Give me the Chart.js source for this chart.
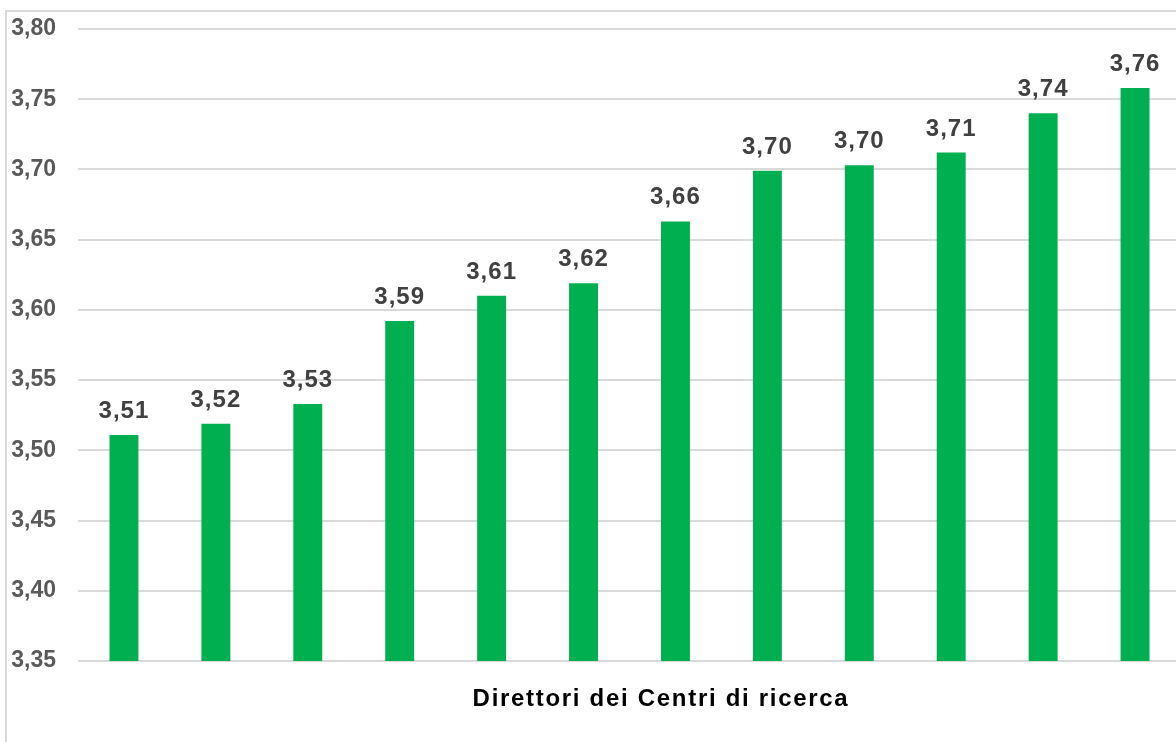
<!DOCTYPE html>
<html>
<head>
<meta charset="utf-8">
<script src="https://cdn.jsdelivr.net/npm/chart.js@4"></script>
<style>
  body { margin: 0; overflow: hidden; background: #fff; width: 1176px; height: 742px; position: relative; }
  #frame { position: absolute; left: 5px; top: 10px; width: 1300px; height: 800px; border: 2px solid #d9d9d9; }
  #wrap { position: absolute; left: 0; top: 0; width: 1200px; height: 742px; }
  #xtitle { position: absolute; left: 361px; width: 600px; top: 686px; text-align: center;
            font: bold 24px/24px Arial, "Liberation Sans", sans-serif; letter-spacing: 1.7px; color: #000; }
</style>
</head>
<body>
<div id="frame"></div>
<div id="wrap"><canvas id="barChart"></canvas></div>
<div id="xtitle">Direttori dei Centri di ricerca</div>
<script>
// one bar per centre, sorted ascending (the picture has no category names)
const categories = ['', '', '', '', '', '', '', '', '', '', '', ''];
const scores = [3.511, 3.519, 3.533, 3.592, 3.610, 3.619, 3.663, 3.699, 3.703, 3.712, 3.740, 3.758];
const yTicks = [3.35, 3.40, 3.45, 3.50, 3.55, 3.60, 3.65, 3.70, 3.75, 3.80];

//italian decimal comma
function fmt(v) {
    return v.toFixed(2).replace('.', ',');
}

//draw the value above each bar
const valueLabels = {
    id: 'valueLabels',
    afterDatasetsDraw(chart) {
        const ctx = chart.ctx;
        ctx.save();
        ctx.font = 'bold 24px Arial, "Liberation Sans", sans-serif';
        ctx.letterSpacing = '1px';
        ctx.fillStyle = '#404040';
        ctx.textAlign = 'center';
        ctx.textBaseline = 'alphabetic';
        chart.getDatasetMeta(0).data.forEach((bar, i) => {
            ctx.fillText(fmt(scores[i]), bar.x, bar.y - 17);
        });
        ctx.restore();
    }
};

const ctx = document.getElementById('barChart').getContext('2d');
new Chart(ctx, {
    type: 'bar',
    data: {
        labels: categories,
        datasets: [{
            data: scores,
            backgroundColor: '#00b050',
            barPercentage: 0.315,
            categoryPercentage: 1
        }]
    },
    options: {
        responsive: true,
        maintainAspectRatio: false,
        animation: false,
        layout: { padding: { top: 29, bottom: 73, right: 19, left: 0 } },
        plugins: {
            legend: { display: false },
            tooltip: { enabled: false }
        },
        scales: {
            x: {
                grid: { display: false },
                border: { display: false },
                ticks: { display: false }
            },
            y: {
                min: yTicks[0],
                max: yTicks[yTicks.length - 1],
                afterBuildTicks: axis => { axis.ticks = yTicks.map(v => ({ value: v })); },
                afterFit: axis => {
                    axis.width = 78;
                    axis.paddingTop = 0;
                    axis.paddingBottom = 0;
                },
                grid: { color: '#d9d9d9', lineWidth: 2, drawTicks: false },
                border: { display: false },
                ticks: {
                    padding: 22,
                    color: '#595959',
                    font: { family: 'Arial, "Liberation Sans", sans-serif', size: 23, weight: 'bold' },
                    callback: v => fmt(v)
                }
            }
        }
    },
    plugins: [valueLabels]
});
</script>
</body>
</html>
